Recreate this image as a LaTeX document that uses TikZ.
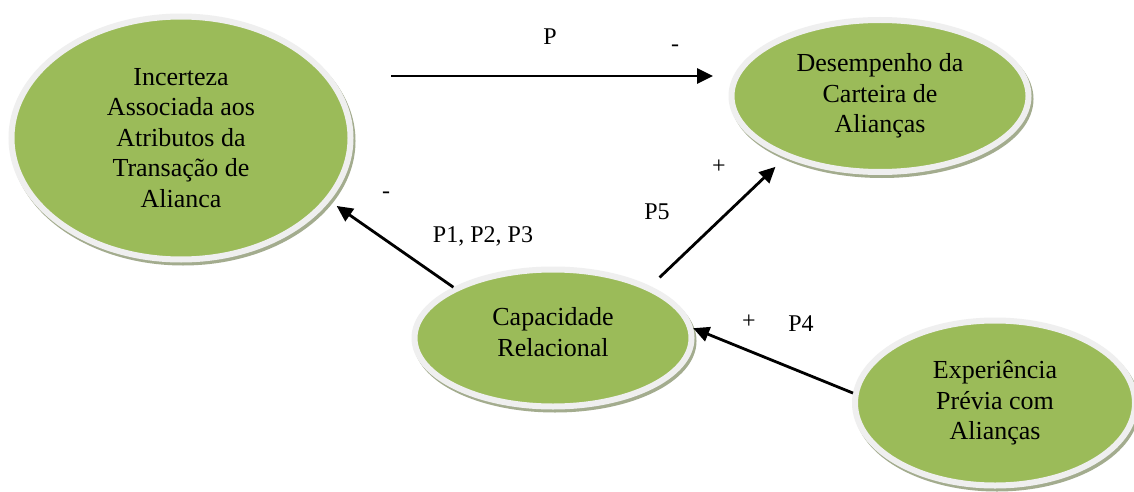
\documentclass[tikz,border=0pt]{standalone}
\usepackage{fontspec}
\setmainfont{Liberation Serif}
\usetikzlibrary{shapes.geometric,arrows.meta}
\definecolor{ellgreen}{HTML}{9BBB59}
\definecolor{ellring}{HTML}{EFEFEF}
\definecolor{ellshadow}{HTML}{A3AC8E}
\begin{document}
\begin{tikzpicture}[x=1pt,y=-1pt,
  ell/.style={ellipse, fill=ellgreen, draw=ellring, line width=6pt, inner sep=0pt,
    align=center, font=\fontsize{26}{30.5}\selectfont,
    preaction={draw=ellshadow, fill=ellshadow, line width=6pt,
      transform canvas={shift={(2pt,-3pt)}}}},
  conn/.style={line width=2.8pt, -{Triangle[length=16pt,width=15pt]}},
  lbl/.style={font=\fontsize{24}{28}\selectfont, inner sep=0pt, anchor=base}]
\useasboundingbox (0,0) rectangle (1134,492);
\fill[white] (0,0) rectangle (1134,492);

\node[ell, minimum width=339pt, minimum height=243pt] (inc) at (181,138)
  {Incerteza\\Associada aos\\Atributos da\\Transação de\\Alianca};
\node[ell, minimum width=297pt, minimum height=152pt] (des) at (880,96)
  {Desempenho da\\Carteira de\\Alianças};
\node[ell, minimum width=277pt, minimum height=137pt, text depth=12pt] (cap) at (553,338)
  {Capacidade\\Relacional};
\node[ell, minimum width=280pt, minimum height=165pt] (exp) at (995,403)
  {Experiência\\Prévia com\\Alianças};

\coordinate (pS) at (391,76);
\coordinate (pE) at (713,76);
\draw[conn] (pS) -- (pE);
\draw[conn, shorten >=8.5pt] (cap.153.7) -- (inc.-23.2);
\draw[conn, shorten <=12.6pt, shorten >=13.4pt] (cap.28) -- (des.213.3);
\draw[conn] (exp.176) -- (cap.4);

\node[lbl] (lP) at (550,45) {P};
\node[lbl] (lm1) at (675,52) {-};
\node[lbl] (lm2) at (386,198) {-};
\node[lbl] (lp123) at (483,242) {P1, P2, P3};
\node[lbl] (lpl1) at (719,173) {+};
\node[lbl] (lP5) at (657,219) {P5};
\node[lbl] (lpl2) at (749,328) {+};
\node[lbl] (lP4) at (801,331) {P4};
\end{tikzpicture}
\end{document}
